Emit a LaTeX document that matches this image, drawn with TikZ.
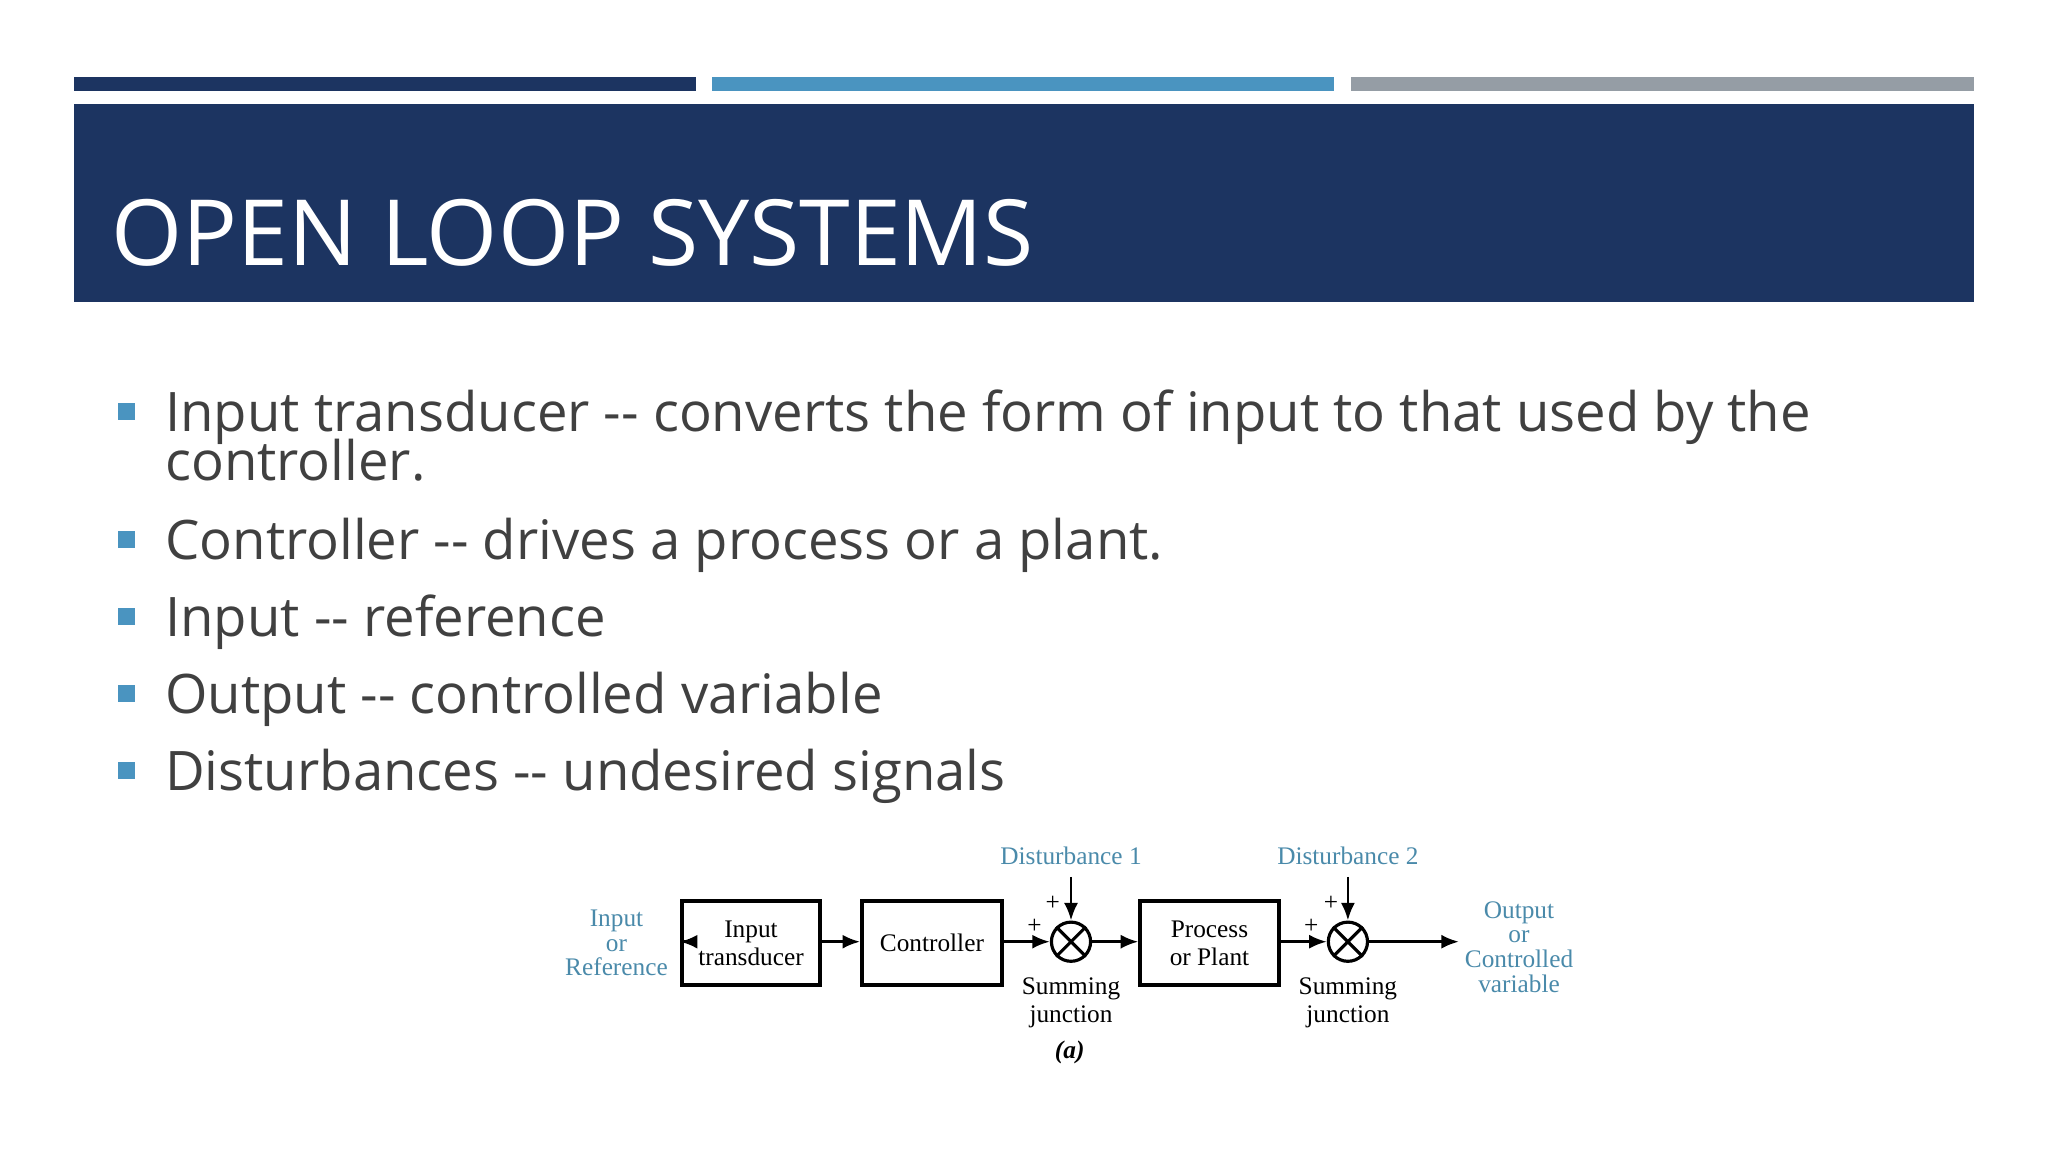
\documentclass[tikz,border=0pt]{standalone}
\usepackage{fontspec}
\setmainfont{Liberation Serif}
\newfontfamily\slide{Open Sans}
\definecolor{navy}{HTML}{1C3461}
\definecolor{lblue}{HTML}{4A94C0}
\definecolor{lgrey}{HTML}{959DA5}
\definecolor{txt}{HTML}{404040}
\definecolor{lab}{HTML}{4A8AAA}
\usetikzlibrary{arrows.meta}
\begin{document}
\begin{tikzpicture}[x=0.01306cm,y=-0.01306cm,
  blk/.style={draw,line width=1.1pt,minimum width=106\pgflinewidth,inner sep=0pt},
  dtext/.style={font=\fontsize{7.2}{8}\selectfont,align=center},
  ltext/.style={dtext,text=lab},
  sig/.style={-{Latex[length=5pt,width=4pt]},line width=0.8pt},
  bul/.style={anchor=base west,text=txt,font=\slide\fontsize{15.5}{16}\selectfont},
  sq/.style={fill=lblue,minimum size=5pt,inner sep=0pt}]
\useasboundingbox (0,0) rectangle (1568,882);
\fill[navy] (57,59) rectangle (533,70);
\fill[lblue] (545,59) rectangle (1021,70);
\fill[lgrey] (1034,59) rectangle (1511,70);
\fill[navy] (57,80) rectangle (1511,231);
\node[anchor=base west,text=white,font=\slide\fontsize{26}{28}\selectfont,inner sep=0pt] (title) at (85,203) {OPEN LOOP SYSTEMS};
\foreach \y/\t [count=\i] in {330/{Input transducer -- converts the form of input to that used by the},428/{Controller -- drives a process or a plant.},487/{Input -- reference},546/{Output -- controlled variable},605/{Disturbances -- undesired signals}}{
  \node[sq] (s\i) at (97,\y-15) {};
  \node[bul,inner sep=0pt] (b\i) at (126,\y) {\t};
}
\node[bul,inner sep=0pt] (b1b) at (126,368) {controller.};
% diagram
\node[ltext] (in) at (472,722) {Input\\[-1pt]or\\[-1pt]Reference};
\node[draw,line width=1.1pt,minimum width=106*0.01306cm,minimum height=64*0.01306cm,dtext] (it) at (575,722) {Input\\transducer};
\node[draw,line width=1.1pt,minimum width=107*0.01306cm,minimum height=64*0.01306cm,dtext] (ct) at (713.5,722) {Controller};
\node[draw,line width=0.9pt,circle,minimum size=30*0.01306cm,inner sep=0pt] (s1) at (820,721) {};
\draw[line width=0.9pt] (s1.45)--(s1.225) (s1.135)--(s1.315);
\node[draw,line width=1.1pt,minimum width=106*0.01306cm,minimum height=64*0.01306cm,dtext] (pp) at (926,722) {Process\\or Plant};
\node[draw,line width=0.9pt,circle,minimum size=30*0.01306cm,inner sep=0pt] (s2) at (1032,721) {};
\draw[line width=0.9pt] (s2.45)--(s2.225) (s2.135)--(s2.315);
\node[ltext] (out) at (1163,725) {Output\\[-1pt]or\\[-1pt]Controlled\\[-1pt]variable};
\coordinate (oe) at (1117,721);
\node[ltext] (d1) at (820,655) {Disturbance 1};
\node[ltext] (d2) at (1032,655) {Disturbance 2};
\draw[sig] (in.east|-s1) -- (it.west|-s1);
\draw[sig] (it.east|-s1) -- (ct.west|-s1);
\draw[sig] (ct.east|-s1) -- (s1.west);
\draw[sig] (s1.east) -- (pp.west|-s1);
\draw[sig] (pp.east|-s1) -- (s2.west);
\draw[sig] (s2.east) -- (oe);
\draw[sig] (d1.south) -- (s1.north);
\draw[sig] (d2.south) -- (s2.north);
\node[dtext] (p1) at (792,709) {+};
\node[dtext] (p2) at (806,692) {+};
\node[dtext] (p3) at (1004,709) {+};
\node[dtext] (p4) at (1019,692) {+};
\node[dtext] (sj1) at (820,768) {Summing\\junction};
\node[dtext] (sj2) at (1032,768) {Summing\\junction};
\node[dtext] (a) at (819,806) {\textbf{\textit{(a)}}};
\end{tikzpicture}
\end{document}
